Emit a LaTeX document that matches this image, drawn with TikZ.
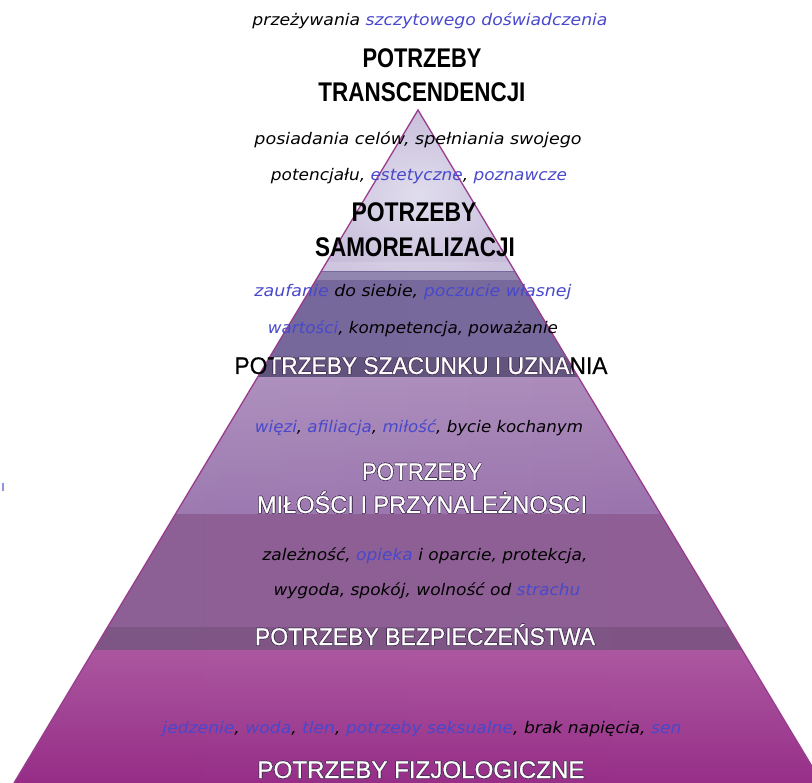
\documentclass[tikz,border=0pt]{standalone}
\usepackage{fontspec}
\usepackage{contour}
\contourlength{0.5pt}
\contournumber{16}
\setmainfont{Liberation Sans}
\newfontfamily\obl{DejaVu Sans}
\newfontfamily\headw{Liberation Sans}[FakeBold=0.6]
\definecolor{tblue}{HTML}{4848CC}
\definecolor{edgec}{HTML}{9A3C8E}
\definecolor{shad}{HTML}{4A3358}
\definecolor{tA}{HTML}{C6BBD9}\definecolor{tB}{HTML}{E0DDED}
\definecolor{eA}{HTML}{75679A}\definecolor{eB}{HTML}{A097BC}\definecolor{eC}{HTML}{786A9C}
\definecolor{lA}{HTML}{9E7CB2}\definecolor{lB}{HTML}{CBB4D9}\definecolor{lC}{HTML}{986FAA}
\definecolor{sA}{HTML}{8C6094}\definecolor{sB}{HTML}{B495BC}\definecolor{sC}{HTML}{8E5E94}
\definecolor{pA}{HTML}{962D87}\definecolor{pB}{HTML}{BA7EAF}\definecolor{pC}{HTML}{972F89}
\newcommand\fitw[2]{\resizebox{#1pt}{\height}{#2}}
\newcommand\B[1]{\textcolor{tblue}{#1}}
\newcommand\W[1]{\contour{shad}{#1}}
\tikzset{
  small/.style={inner sep=0pt, anchor=base, font=\obl\itshape\fontsize{16}{18}\selectfont},
  headk/.style={inner sep=0pt, anchor=base, font=\bfseries\fontsize{27}{30}\selectfont, text=black},
  headwh/.style={inner sep=0pt, anchor=base, font=\headw\fontsize{24}{28}\selectfont, text=white},
}
\begin{document}
\begin{tikzpicture}[x=1pt,y=-1pt]
\useasboundingbox (0,0) rectangle (812,783);
\clip (0,0) rectangle (812,783);
\coordinate (A) at (418,110);
\coordinate (BL) at (14,783);
\coordinate (BR) at (822,783);
\begin{scope}
  \clip (A) -- (BL) -- (BR) -- cycle;
  % transcendence / self-realisation triangle
  \fill[tA] (0,100) rectangle (812,272);
  \shade[inner color=tB, outer color=tA] (418,195) ellipse (120 and 95);
  \fill[white, opacity=0.15] (0,262) rectangle (812,272);
  % esteem
  \shade[left color=eA, middle color=eB, right color=eC] (0,272) rectangle (812,378);
  \fill[white, opacity=0.2] (0,272) rectangle (812,280);
  \fill[black!60!eA, opacity=0.3] (0,357) rectangle (812,378);
  % love
  \shade[left color=lA, middle color=lB, right color=lC] (0,378) rectangle (812,515);
  \shade[top color=white, bottom color=lA, opacity=0.18] (0,378) rectangle (812,515);
  % safety
  \shade[left color=sA, middle color=sB, right color=sC] (0,515) rectangle (812,650);
  \fill[black!50!sA, opacity=0.2] (0,627) rectangle (812,650);
  % physiological
  \shade[left color=pA, middle color=pB, right color=pC] (0,650) rectangle (812,783);
  \shade[top color=white, bottom color=pA, opacity=0.2] (0,650) rectangle (812,783);
\end{scope}
\draw[edgec, line width=1.3] (BL) -- (A) -- (BR);
\draw[tblue!60, line width=1.5] (3,483) -- (3,491);

% texts
\node[small] (t1) at (430,26) {\fitw{355}{przeżywania \B{szczytowego doświadczenia}}};
\node[headk] (h1a) at (422,68) {\fitw{119}{POTRZEBY}};
\node[headk] (h1b) at (422,102) {\fitw{207}{TRANSCENDENCJI}};

\node[small] (t2a) at (418,145) {\fitw{327}{posiadania celów, spełniania swojego}};
\node[small] (t2b) at (419,181) {\fitw{296}{potencjału, \B{estetyczne}, \B{poznawcze}}};
\node[headk] (h2a) at (414,222) {\fitw{125}{POTRZEBY}};
\node[headk] (h2b) at (415,257) {\fitw{200}{SAMOREALIZACJI}};

\node[small] (t3a) at (413,297) {\fitw{317}{\B{zaufanie} do siebie, \B{poczucie własnej}}};
\node[small] (t3b) at (413,334) {\fitw{290}{\B{wartości}, kompetencja, poważanie}};
\node[headwh, text=black] (h3k) at (421,374) {\fitw{373}{POTRZEBY SZACUNKU I UZNANIA}};
\begin{scope}
  \clip (280,340) -- (562,340) -- (580,395) -- (262,395) -- cycle;
  \node[headwh] (h3w) at (421,374) {\fitw{373}{\W{POTRZEBY SZACUNKU I UZNANIA}}};
\end{scope}

\node[small] (t4) at (419,433) {\fitw{328}{\B{więzi}, \B{afiliacja}, \B{miłość}, bycie kochanym}};
\node[headwh] (h4a) at (422,480) {\fitw{120}{\W{POTRZEBY}}};
\node[headwh] (h4b) at (422,513) {\fitw{330}{\W{MIŁOŚCI I PRZYNALEŻNOSCI}}};

\node[small] (t5a) at (425,561) {\fitw{325}{zależność, \B{opieka} i oparcie, protekcja,}};
\node[small] (t5b) at (427,596) {\fitw{307}{wygoda, spokój, wolność od \B{strachu}}};
\node[headwh] (h5) at (425,645) {\fitw{340}{\W{POTRZEBY BEZPIECZEŃSTWA}}};

\node[small] (t6) at (422,733) {\fitw{519}{\B{jedzenie}, \B{woda}, \B{tlen}, \B{potrzeby seksualne}, brak napięcia, \B{sen}}};
\node[headwh] (h6) at (421,778) {\fitw{327}{\W{POTRZEBY FIZJOLOGICZNE}}};
\end{tikzpicture}
\end{document}
